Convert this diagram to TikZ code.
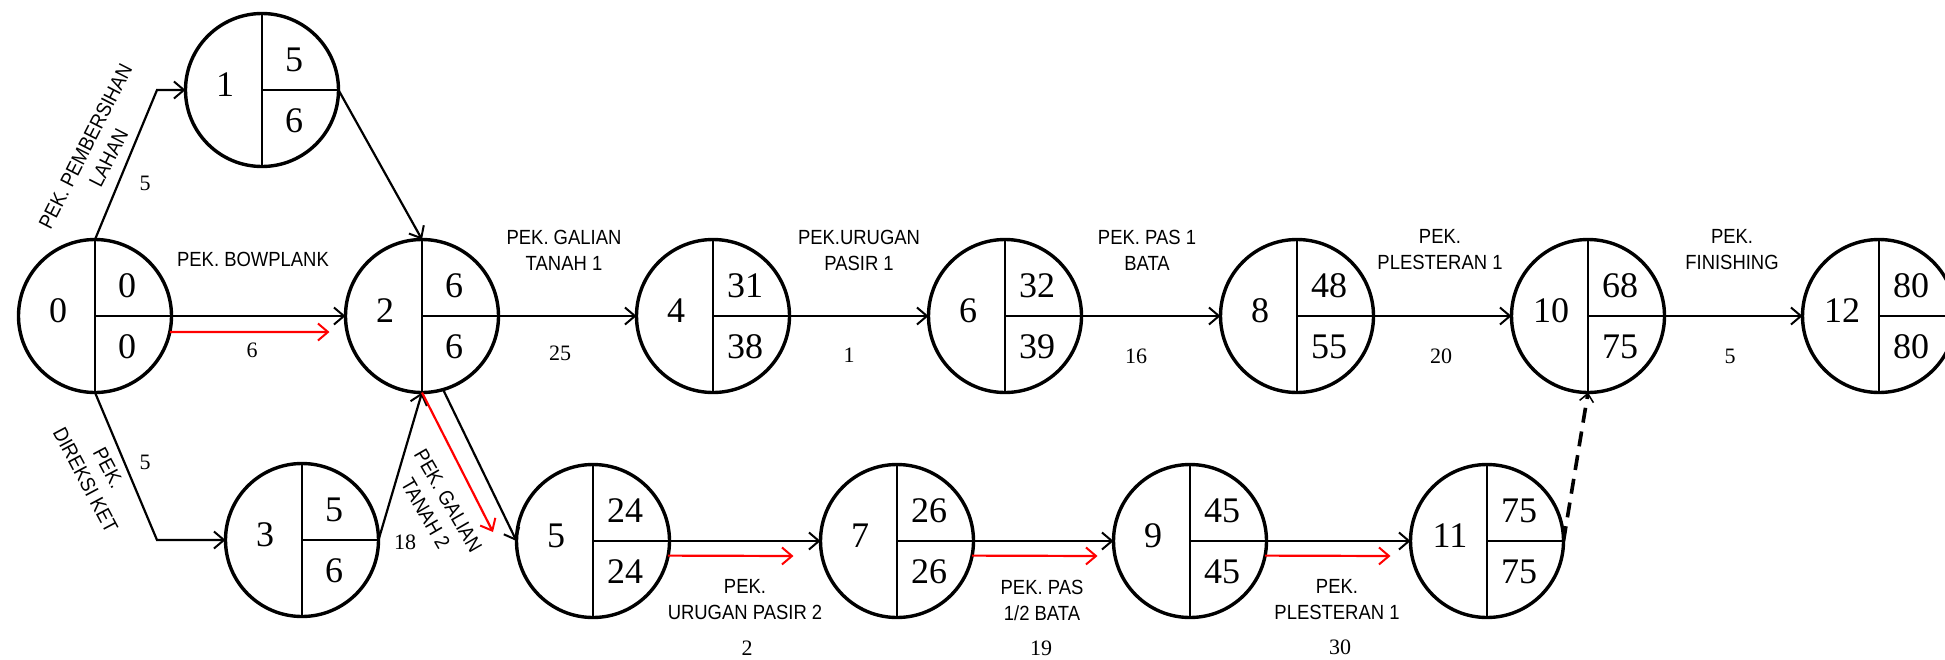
\documentclass[tikz,border=0pt]{standalone}
\usepackage{fontspec}
\setmainfont{Liberation Serif}
\newfontfamily\lblfont[FakeStretch=0.9]{Liberation Sans}
\usetikzlibrary{arrows.meta,calc}
\tikzset{
  ev/.style={circle,draw,line width=3.4pt,minimum size=153pt,inner sep=0pt,outer sep=0pt},
  div/.style={line width=2pt},
  numf/.style={font=\fontsize{36}{40}\selectfont,inner sep=0pt},
  lbl/.style={font=\lblfont\fontsize{20.5}{26}\selectfont,align=center,inner sep=0pt},
  dur/.style={font=\fontsize{22}{26}\selectfont,inner sep=0pt},
  arr/.style={line width=2.2pt,-{Straight Barb[length=10pt,width=17pt,line width=2pt]}},
  redarr/.style={arr,red},
  dumarr/.style={line width=3.6pt,dash pattern=on 15pt off 9pt,-{Straight Barb[length=8pt,width=14pt,line width=1.5pt]}}
}
\newcommand\evnode[6]{%
  \node[ev] (#1) at (#2,#3) {};
  \draw[div] (#1.north) -- (#1.south);
  \draw[div] (#1.center) -- (#1.east);
  \node[numf] (#1n) at ($(#1.center)+(-37,-5)$) {#4};
  \node[numf] (#1t) at ($(#1.center)+(32,-30)$) {#5};
  \node[numf] (#1b) at ($(#1.center)+(32,31)$) {#6};
}
\begin{document}
\begin{tikzpicture}[x=1pt,y=-1pt]
\useasboundingbox (0,0) rectangle (1945,659);
% events
\evnode{n0}{95}{316}{0}{0}{0}
\evnode{n1}{262}{90}{1}{5}{6}
\evnode{n2}{422}{316}{2}{6}{6}
\evnode{n3}{302}{540}{3}{5}{6}
\evnode{n4}{713}{316}{4}{31}{38}
\evnode{n5}{593}{541}{5}{24}{24}
\evnode{n6}{1005}{316}{6}{32}{39}
\evnode{n7}{897}{541}{7}{26}{26}
\evnode{n8}{1297}{316}{8}{48}{55}
\evnode{n9}{1190}{541}{9}{45}{45}
\evnode{n10}{1588}{316}{10}{68}{75}
\evnode{n11}{1487}{541}{11}{75}{75}
\evnode{n12}{1879}{316}{12}{80}{80}
% bend points
\coordinate (b1) at (157,90);
\coordinate (b3) at (157,540);
% black activities
\draw[arr] (n0.north) -- (b1) -- (n1.west);
\draw[arr] (n1.east) -- (n2.north);
\draw[arr] (n0.east) -- (n2.west);
\draw[arr] (n0.south) -- (b3) -- (n3.west);
\draw[arr] (n3.east) -- (n2.south);
\draw[arr] (n2.-74) -- (n5.west);
\draw[arr] (n2.east) -- (n4.west);
\draw[arr] (n4.east) -- (n6.west);
\draw[arr] (n6.east) -- (n8.west);
\draw[arr] (n8.east) -- (n10.west);
\draw[arr] (n10.east) -- (n12.west);
\draw[arr] (n5.east) -- (n7.west);
\draw[arr] (n7.east) -- (n9.west);
\draw[arr] (n9.east) -- (n11.west);
\draw[dumarr] (n11.east) -- (n10.south);
% critical path (red)
\coordinate (r02) at ($(n2.west)+(-16,16)$);
\coordinate (r25) at (493,532);
\coordinate (r57) at ($(n7.west)+(-27,15)$);
\coordinate (r79) at ($(n9.west)+(-16,15)$);
\coordinate (r911) at ($(n11.west)+(-20,15)$);
\draw[redarr] (n0.-12) -- (r02);
\draw[redarr] (n2.south) -- (r25);
\draw[redarr] (n5.-11) -- (r57);
\draw[redarr] (n7.-11) -- (r79);
\draw[redarr] (n9.-11) -- (r911);
% activity labels
\node[lbl,rotate=63] (l01) at (97,152) {PEK. PEMBERSIHAN\\LAHAN};
\node[dur] (d01) at (145,183) {5};
\node[lbl] (l02) at (253,259) {PEK. BOWPLANK};
\node[dur] (d02) at (252,350) {6};
\node[lbl,rotate=-62] (l03) at (97,474) {PEK.\\DIREKSI KET};
\node[dur] (d03) at (145,462) {5};
\node[dur] (d32) at (405,542) {18};
\node[lbl,rotate=-60] (l25) at (437,507) {PEK. GALIAN\\TANAH 2};
\node[lbl] (l24) at (564,250) {PEK. GALIAN\\TANAH 1};
\node[dur] (d24) at (560,353) {25};
\node[lbl] (l46) at (859,250) {PEK.URUGAN\\PASIR 1};
\node[dur] (d46) at (849,355) {1};
\node[lbl] (l68) at (1147,250) {PEK. PAS 1\\BATA};
\node[dur] (d68) at (1136,356) {16};
\node[lbl] (l810) at (1440,250) {PEK.\\PLESTERAN 1};
\node[dur] (d810) at (1441,356) {20};
\node[lbl] (l1012) at (1732,250) {PEK.\\FINISHING};
\node[dur] (d1012) at (1730,356) {5};
\node[lbl] (l57) at (745,600) {PEK.\\URUGAN PASIR 2};
\node[dur] (d57) at (747,648) {2};
\node[lbl] (l79) at (1042,600) {PEK. PAS\\1/2 BATA};
\node[dur] (d79) at (1041,648) {19};
\node[lbl] (l911) at (1337,600) {PEK.\\PLESTERAN 1};
\node[dur] (d911) at (1340,647) {30};
\end{tikzpicture}
\end{document}
